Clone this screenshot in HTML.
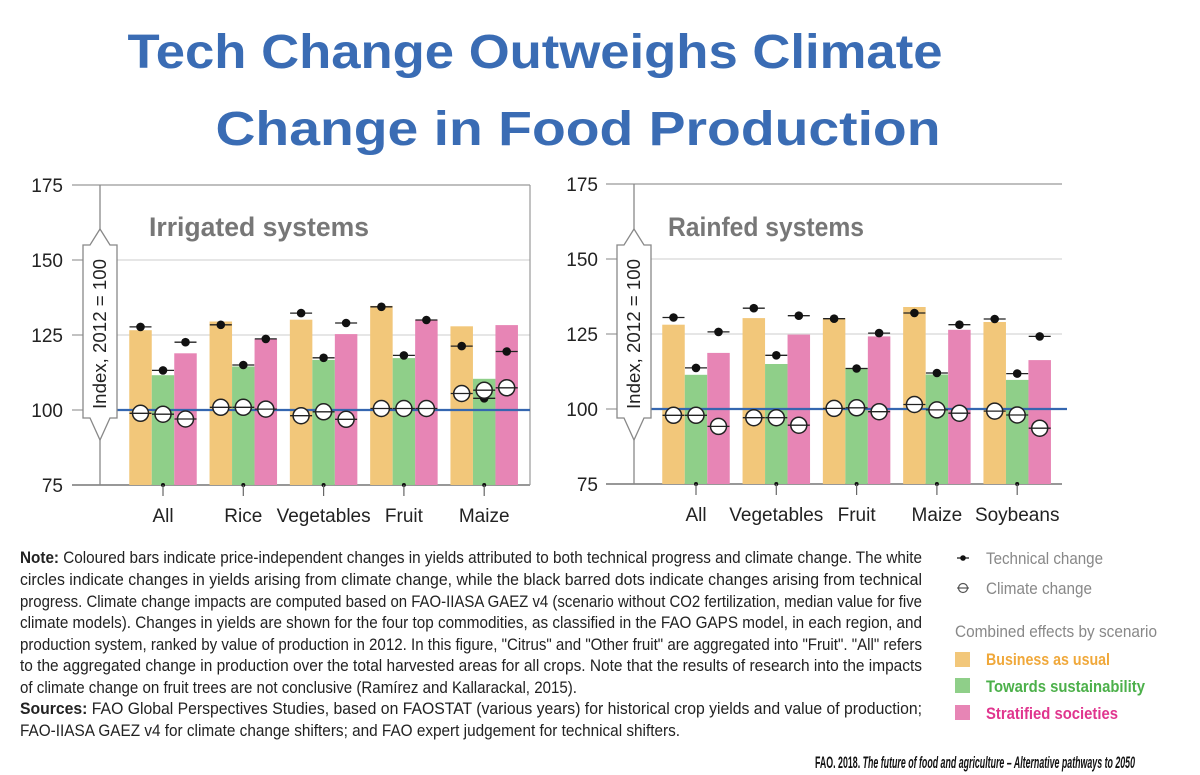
<!DOCTYPE html>
<html><head><meta charset="utf-8">
<style>
html,body{margin:0;padding:0;background:#fff;}
svg{display:block;font-family:"Liberation Sans Narrow","Liberation Sans",sans-serif;}
</style></head>
<body>
<svg id="root" width="1200" height="775" viewBox="0 0 1200 775" xmlns="http://www.w3.org/2000/svg">
  <text x="535" y="68" text-anchor="middle" font-family="Liberation Sans, sans-serif" font-weight="bold" font-size="48" fill="#3a6cb4" textLength="815" lengthAdjust="spacingAndGlyphs">Tech Change Outweighs Climate</text>
  <text x="578" y="145" text-anchor="middle" font-family="Liberation Sans, sans-serif" font-weight="bold" font-size="48" fill="#3a6cb4" textLength="725" lengthAdjust="spacingAndGlyphs">Change in Food Production</text>
  <g id="chartL"></g>
  <g id="chartR"></g>

  <g font-size="16.5" fill="#222">
    <text x="20" y="563" textLength="902" lengthAdjust="spacingAndGlyphs"><tspan font-weight="bold">Note:</tspan> Coloured bars indicate price-independent changes in yields attributed to both technical progress and climate change. The white</text>
    <text x="20" y="585" textLength="902" lengthAdjust="spacingAndGlyphs">circles indicate changes in yields arising from climate change, while the black barred dots indicate changes arising from technical</text>
    <text x="20" y="607" textLength="902" lengthAdjust="spacingAndGlyphs">progress. Climate change impacts are computed based on FAO-IIASA GAEZ v4 (scenario without CO2 fertilization, median value for five</text>
    <text x="20" y="628" textLength="902" lengthAdjust="spacingAndGlyphs">climate models). Changes in yields are shown for the four top commodities, as classified in the FAO GAPS model, in each region, and</text>
    <text x="20" y="650" textLength="902" lengthAdjust="spacingAndGlyphs">production system, ranked by value of production in 2012. In this figure, "Citrus" and "Other fruit" are aggregated into "Fruit". "All" refers</text>
    <text x="20" y="671" textLength="902" lengthAdjust="spacingAndGlyphs">to the aggregated change in production over the total harvested areas for all crops. Note that the results of research into the impacts</text>
    <text x="20" y="693" textLength="557" lengthAdjust="spacingAndGlyphs">of climate change on fruit trees are not conclusive (Ramírez and Kallarackal, 2015).</text>
    <text x="20" y="714" textLength="902" lengthAdjust="spacingAndGlyphs"><tspan font-weight="bold">Sources:</tspan> FAO Global Perspectives Studies, based on FAOSTAT (various years) for historical crop yields and value of production;</text>
    <text x="20" y="736" textLength="660" lengthAdjust="spacingAndGlyphs">FAO-IIASA GAEZ v4 for climate change shifters; and FAO expert judgement for technical shifters.</text>
  </g>

  <g font-size="17">
    <g>
      <line x1="957" y1="558" x2="969" y2="558" stroke="#222" stroke-width="1.3"/>
      <circle cx="963" cy="558" r="2.8" fill="#111"/>
      <text x="986" y="564" fill="#888" textLength="117" lengthAdjust="spacingAndGlyphs">Technical change</text>
    </g>
    <g>
      <circle cx="963" cy="588" r="4.5" fill="#fff" stroke="#555" stroke-width="1.2"/>
      <line x1="957" y1="588" x2="969" y2="588" stroke="#555" stroke-width="1.2"/>
      <text x="986" y="594" fill="#888" textLength="106" lengthAdjust="spacingAndGlyphs">Climate change</text>
    </g>
    <text x="955" y="637" fill="#888" textLength="202" lengthAdjust="spacingAndGlyphs">Combined effects by scenario</text>
    <g>
      <rect x="955" y="652" width="15" height="15" fill="#f2c77a"/>
      <text x="986" y="665" fill="#f0a83a" font-weight="bold" textLength="124" lengthAdjust="spacingAndGlyphs">Business as usual</text>
    </g>
    <g>
      <rect x="955" y="678" width="15" height="15" fill="#8fcf89"/>
      <text x="986" y="692" fill="#4cb04a" font-weight="bold" textLength="159" lengthAdjust="spacingAndGlyphs">Towards sustainability</text>
    </g>
    <g>
      <rect x="955" y="705" width="15" height="15" fill="#e785b5"/>
      <text x="986" y="719" fill="#e0358e" font-weight="bold" textLength="132" lengthAdjust="spacingAndGlyphs">Stratified societies</text>
    </g>
  </g>
  <text x="815" y="768" font-size="17" fill="#111" font-weight="bold" font-family="Liberation Sans, sans-serif" textLength="320" lengthAdjust="spacingAndGlyphs">FAO. 2018. <tspan font-style="italic">The future of food and agriculture – Alternative pathways to 2050</tspan></text>
</svg>
<script>
// Irrigated systems data
const irrCategories = ["All","Rice","Vegetables","Fruit","Maize"];
const irrBau = [126.6,129.5,130.1,134.7,127.9];
const irrTs = [111.6,114.5,116.7,117.3,110.4];
const irrSs = [118.9,123.7,125.3,130.1,128.3];
const irrTechBau = [127.7,128.4,132.3,134.4,121.3];
const irrTechTs = [113.2,115.0,117.4,118.2,103.9];
const irrTechSs = [122.6,123.7,129.0,130.0,119.5];
const irrClimBau = [98.9,100.9,98.1,100.5,105.5];
const irrClimTs = [98.6,100.9,99.4,100.5,106.6];
const irrClimSs = [97.0,100.3,96.9,100.5,107.4];
// Rainfed systems data
const rainCategories = ["All","Vegetables","Fruit","Maize","Soybeans"];
const rainBau = [128.1,130.3,130.3,134.0,129.0];
const rainTs = [111.4,115.0,113.7,111.5,109.7];
const rainSs = [118.7,124.8,124.2,126.4,116.3];
const rainTechBau = [130.5,133.6,130.1,132.0,130.0];
const rainTechTs = [113.7,117.9,113.5,112.0,111.8];
const rainTechSs = [125.7,131.1,125.3,128.1,124.2];
const rainClimBau = [97.9,97.1,100.2,101.5,99.3];
const rainClimTs = [97.9,97.1,100.4,99.7,98.0];
const rainClimSs = [94.2,94.6,99.1,98.6,93.6];
const yTicks = [75,100,125,150,175];

const NS = "http://www.w3.org/2000/svg";
function mk(tag, attrs, parent){
  const e = document.createElementNS(NS, tag);
  for (const k in attrs) e.setAttribute(k, attrs[k]);
  parent.appendChild(e);
  return e;
}
const colors = ["#f2c77a","#8fcf89","#e785b5"];
const seriesNames = ["business-as-usual","towards-sustainability","stratified-societies"];

function drawChart(g, cfg){
  const y = v => cfg.y75 - (v - 75) * (cfg.y75 - cfg.y175) / 100;
  const cx = i => cfg.firstCenter + i * cfg.step;
  const bw = 22.5;
  yTicks.forEach(t => {
    const isEdge = (t === 75 || t === 175);
    const ln = mk("line", {x1: isEdge ? cfg.lineStart : cfg.axisX, x2: cfg.right, y1: y(t), y2: y(t),
      stroke: t===75 ? "#777" : (t===175 ? "#999" : "#d6d6d6"), "stroke-width": t===75?1.5:1.2}, g);
    
    
    if (!isEdge) {
      const tk = mk("line", {x1: cfg.lineStart, x2: cfg.axisX - 15, y1: y(t), y2: y(t), stroke: "#999", "stroke-width": 1.2}, g);
      
      
    }
    const tl = mk("text", {x: cfg.labelX, y: y(t) + 7, "text-anchor": "end", "font-size": 19, fill: "#222"}, g);
    tl.textContent = t;
    
    
  });
  if (cfg.rightBorder) {
    const rb = mk("line", {x1: cfg.right, x2: cfg.right, y1: y(175), y2: y(75), stroke: "#999", "stroke-width": 1.2}, g);
    
    
  }
  const ti = mk("text", {x: cfg.titleX, y: 236, "font-size": 27, "font-weight": "bold", fill: "#777", textLength: cfg.titleLen, lengthAdjust: "spacingAndGlyphs"}, g);
  ti.textContent = cfg.title;
  
  
  const bars = [cfg.bau, cfg.ts, cfg.ss];
  const techs = [cfg.techBau, cfg.techTs, cfg.techSs];
  const clims = [cfg.climBau, cfg.climTs, cfg.climSs];
  cfg.cats.forEach((c, i) => {
    for (let s = 0; s < 3; s++) {
      const x0 = cx(i) + (s - 1.5) * bw;
      const r = mk("rect", {x: x0, y: y(bars[s][i]), width: bw, height: y(75) - y(bars[s][i]), fill: colors[s]}, g);
      
      
    }
  });
  const bl = mk("line", {x1: cfg.lineStart + 12, x2: cfg.right + (cfg.rightBorder?0:5), y1: y(100), y2: y(100), stroke: "#3567b0", "stroke-width": 2.2}, g);
  
  
  const ax = mk("line", {x1: cfg.axisX, x2: cfg.axisX, y1: y(175), y2: y(75), stroke: "#888", "stroke-width": 1.3}, g);
  
  
  const a = cfg.axisX;
  const shape = mk("path", {d: `M${a},229 L${a+10},245 L${a+17},245 L${a+17},418 L${a+10},418 L${a},440 L${a-10},418 L${a-17},418 L${a-17},245 L${a-10},245 Z`, fill: "#fff", stroke: "#888", "stroke-width": 1.3}, g);
  
  
  const il = mk("text", {x: 0, y: 0, "font-size": 18, fill: "#222", "text-anchor": "middle", transform: `translate(${a+6},334) rotate(-90)`, textLength: 150, lengthAdjust: "spacingAndGlyphs"}, g);
  il.textContent = "Index, 2012 = 100";
  
  
  cfg.cats.forEach((c, i) => {
    for (let s = 0; s < 3; s++) {
      const mx = cx(i) + (s - 1) * bw;
      const tl = mk("line", {x1: mx - 11, x2: mx + 11, y1: y(techs[s][i]), y2: y(techs[s][i]), stroke: "#222", "stroke-width": 1.3}, g);
      
      
      const td = mk("circle", {cx: mx, cy: y(techs[s][i]), r: 4.3, fill: "#111"}, g);
      
      
      const cc = mk("circle", {cx: mx, cy: y(clims[s][i]), r: 8, fill: "#fff", stroke: "#222", "stroke-width": 1.5}, g);
      
      
      const cl = mk("line", {x1: mx - 11, x2: mx + 11, y1: y(clims[s][i]), y2: y(clims[s][i]), stroke: "#222", "stroke-width": 1.3}, g);
      
      
    }
    const xd = mk("circle", {cx: cx(i), cy: y(75), r: 2, fill: "#111"}, g);
    
    
    const xt = mk("line", {x1: cx(i), x2: cx(i), y1: y(75), y2: y(75) + 11, stroke: "#666", "stroke-width": 1.2}, g);
    
    
    const lab = mk("text", {x: cx(i), y: y(75) + 37, "text-anchor": "middle", "font-size": 19, fill: "#222"}, g);
    lab.textContent = c;
    
    
  });
}
drawChart(document.getElementById("chartL"), {
  cats: irrCategories, bau: irrBau, ts: irrTs, ss: irrSs,
  techBau: irrTechBau, techTs: irrTechTs, techSs: irrTechSs,
  climBau: irrClimBau, climTs: irrClimTs, climSs: irrClimSs,
  y75: 485, y175: 185, firstCenter: 163, step: 80.3, axisX: 100, lineStart: 72, right: 530,
  labelX: 63, title: "Irrigated systems", titleX: 149, titleLen: 220, rightBorder: true
});
drawChart(document.getElementById("chartR"), {
  cats: rainCategories, bau: rainBau, ts: rainTs, ss: rainSs,
  techBau: rainTechBau, techTs: rainTechTs, techSs: rainTechSs,
  climBau: rainClimBau, climTs: rainClimTs, climSs: rainClimSs,
  y75: 484, y175: 184, firstCenter: 696, step: 80.3, axisX: 634, lineStart: 606, right: 1062,
  labelX: 598, title: "Rainfed systems", titleX: 668, titleLen: 196, rightBorder: false
});
</script>
</body></html>
